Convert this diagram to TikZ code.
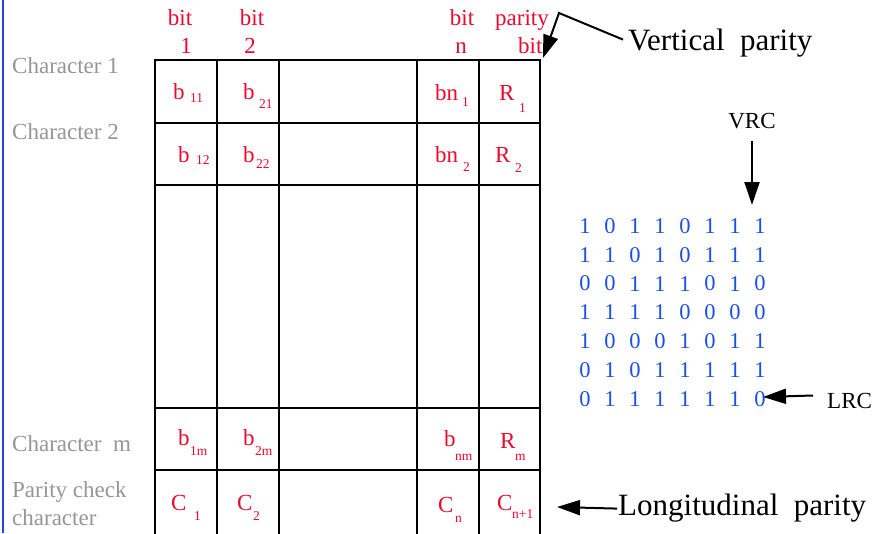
\documentclass[tikz,border=0pt]{standalone}
\usepackage{fontspec}
\setmainfont{Liberation Serif}
\usetikzlibrary{arrows.meta}
\definecolor{cred}{RGB}{235,10,45}
\definecolor{cgray}{RGB}{150,150,150}
\definecolor{cdig}{RGB}{25,80,230}
\definecolor{cbar}{RGB}{30,70,230}
\begin{document}
\begin{tikzpicture}[x=1pt,y=-1pt,
  txt/.style={inner sep=0pt, anchor=base west},
  cell/.style={txt, text=cred, font=\fontsize{23}{23}\selectfont},
  sub/.style={txt, text=cred, font=\fontsize{13.5}{13.5}\selectfont},
  head/.style={inner sep=0pt, anchor=base, text=cred, font=\fontsize{23}{23}\selectfont},
  lab/.style={txt, text=cgray, font=\fontsize{23}{23}\selectfont},
  note/.style={txt, text=black, font=\fontsize{31}{31}\selectfont},
  small/.style={inner sep=0pt, text=black, font=\fontsize{23}{23}\selectfont},
  dig/.style={inner sep=0pt, text=cdig, font=\fontsize{22.5}{22.5}\selectfont},
  gridline/.style={line width=2.6pt},
  arr/.style={line width=2pt, -{Triangle[length=23pt,width=15pt]}}]
\useasboundingbox (0,0) rectangle (873,533);
\fill[white] (0,0) rectangle (873,533);
% left blue bar
\draw[cbar, line width=2.6pt] (3,0) -- (3,533);

% grid
\foreach \x in {155,217,279,417,479,540} \draw[gridline] (\x,58.7) -- (\x,534);
\foreach \y in {60,123,185,408,470} \draw[gridline] (153.7,\y) -- (541.3,\y);

% headers
\node[head] (h1a) at (180,25) {bit};
\node[head] (h1b) at (186,53) {1};
\node[head] (h2a) at (252,25) {bit};
\node[head] (h2b) at (250,53) {2};
\node[head] (hna) at (462,25) {bit};
\node[head] (hnb) at (461,53) {n};
\node[txt, text=cred, font=\fontsize{23}{23}\selectfont] (hpa) at (495,25) {parity};
\node[txt, text=cred, font=\fontsize{23}{23}\selectfont] (hpb) at (518,53) {bit};

% left labels
\node[lab] (l1) at (12,73) {Character 1};
\node[lab] (l2) at (12,139) {Character 2};
\node[lab] (lm) at (12,451) {Character\ \ m};
\node[lab] (lp1) at (12,497) {Parity check};
\node[lab] (lp2) at (12,525) {character};

% row 1
\node[cell] (b11) at (173,99) {b};  \node[sub] (b11s) at (190,102) {11};
\node[cell] (b21) at (243,99) {b};  \node[sub] (b21s) at (259,108) {21};
\node[cell] (bn1) at (435,100) {bn}; \node[sub] (bn1s) at (462,106) {1};
\node[cell] (r1) at (499,100) {R};  \node[sub] (r1s) at (519,112) {1};
% row 2
\node[cell] (b12) at (178,162) {b};  \node[sub] (b12s) at (196,164) {12};
\node[cell] (b22) at (243,162) {b};  \node[sub] (b22s) at (256,168) {22};
\node[cell] (bn2) at (435,162) {bn}; \node[sub] (bn2s) at (463,171) {2};
\node[cell] (r2) at (495,162) {R};  \node[sub] (r2s) at (515,172) {2};
% row m
\node[cell] (b1m) at (178,445) {b};  \node[sub] (b1ms) at (190,455) {1m};
\node[cell] (b2m) at (243,445) {b};  \node[sub] (b2ms) at (255,455) {2m};
\node[cell] (bnm) at (444,446) {b};  \node[sub] (bnms) at (455,460) {nm};
\node[cell] (rm) at (500,448) {R};   \node[sub] (rms) at (515,460) {m};
% row C
\node[cell] (c1) at (171,510) {C};  \node[sub] (c1s) at (194,520) {1};
\node[cell] (c2) at (237,510) {C};  \node[sub] (c2s) at (253,520) {2};
\node[cell] (cn) at (438,512) {C};  \node[sub] (cns) at (455,522) {n};
\node[cell] (cn1) at (497,510) {C}; \node[sub] (cn1s) at (512,518) {n+1};

% digits
\foreach \r/\bits in {0/{1,0,1,1,0,1,1,1},1/{1,1,0,1,0,1,1,1},2/{0,0,1,1,1,0,1,0},3/{1,1,1,1,0,0,0,0},4/{1,0,0,0,1,0,1,1},5/{0,1,0,1,1,1,1,1},6/{0,1,1,1,1,1,1,0}}{
  \foreach \b [count=\c from 0] in \bits {
    \node[dig] (d\r-\c) at (585+25*\c, 226+28.8*\r) {\b};
  }
}

% VRC
\node[small, anchor=base] (vrc) at (752,128) {VRC};
\coordinate (vrct) at (752,205);
\draw[arr] ([yshift=-13pt]vrc.base) -- (vrct);

% LRC
\node[small, anchor=base west] (lrc) at (827,408) {LRC};
\coordinate (lrct) at (763,397);
\draw[arr] ([xshift=-14pt,yshift=5pt]lrc.west) -- (lrct);

% Vertical parity
\node[note] (vp) at (628,50) {Vertical\ \ parity};
\coordinate (vpc) at (559,13);
\coordinate (vpt) at (543,58);
\draw[line width=2pt, -{Triangle[length=23pt,width=15pt]}] ([xshift=-5pt,yshift=3pt]vp.west) -- (vpc) -- (vpt);

% Longitudinal parity
\node[note] (lp) at (618,515) {Longitudinal\ \ parity};
\coordinate (lpt) at (557,507);
\draw[arr] ([xshift=-1pt,yshift=-1pt]lp.west) -- (lpt);
\end{tikzpicture}
\end{document}
